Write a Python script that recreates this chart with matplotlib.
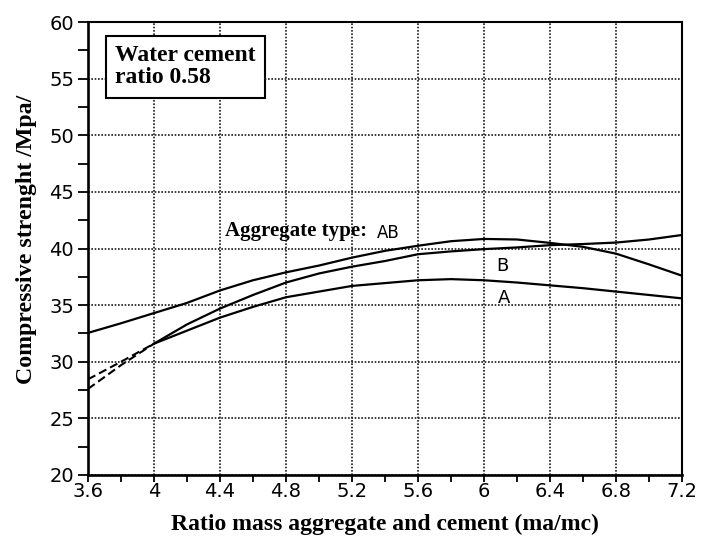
import numpy as np
import matplotlib
matplotlib.use('Agg')
import matplotlib.pyplot as plt
from matplotlib.ticker import MultipleLocator

# values
x_full = [3.6, 3.8, 4.0, 4.2, 4.4, 4.6, 4.8, 5.0, 5.2, 5.4, 5.6, 5.8, 6.0,
          6.2, 6.4, 6.6, 6.8, 7.0, 7.2]
y_ab = [32.55, 33.4, 34.3, 35.2, 36.3, 37.2, 37.9, 38.5, 39.2, 39.8, 40.25,
        40.65, 40.85, 40.8, 40.5, 40.15, 39.55, 38.6, 37.6]

x_part = [4.0, 4.2, 4.4, 4.6, 4.8, 5.0, 5.2, 5.4, 5.6, 5.8, 6.0, 6.2, 6.4,
          6.6, 6.8, 7.0, 7.2]
y_b = [31.6, 33.3, 34.7, 35.9, 37.0, 37.8, 38.4, 38.9, 39.5, 39.75, 39.95,
       40.1, 40.3, 40.4, 40.53, 40.8, 41.2]
y_a = [31.6, 32.75, 33.9, 34.85, 35.7, 36.2, 36.7, 36.95, 37.2, 37.3, 37.2,
       37.0, 36.75, 36.5, 36.2, 35.9, 35.6]

x_dash = [3.6, 3.8, 4.0]
y_b_dash = [28.45, 30.0, 31.6]
y_a_dash = [27.6, 29.7, 31.6]

x_ticks = [3.6, 4.0, 4.4, 4.8, 5.2, 5.6, 6.0, 6.4, 6.8, 7.2]
x_ticklabels = ['3.6', '4', '4.4', '4.8', '5.2', '5.6', '6', '6.4', '6.8', '7.2']
y_ticks = [20, 25, 30, 35, 40, 45, 50, 55, 60]

serif = 'Liberation Serif'
sans = 'DejaVu Sans'

fig = plt.figure(figsize=(7.01, 5.40), dpi=100)
ax = fig.add_axes([0.1255, 0.1204, 0.8475, 0.8386])

ax.plot(x_full, y_ab, color='black', lw=1.6)
ax.plot(x_part, y_b, color='black', lw=1.6)
ax.plot(x_part, y_a, color='black', lw=1.6)
ax.plot(x_dash, y_b_dash, color='black', lw=1.5, ls=(0, (4, 2)))
ax.plot(x_dash, y_a_dash, color='black', lw=1.5, ls=(0, (4, 2)))

ax.set_xlim(3.6, 7.2)
ax.set_ylim(20, 60)
ax.set_xticks(x_ticks)
ax.set_xticklabels(x_ticklabels)
ax.set_yticks(y_ticks)
ax.xaxis.set_minor_locator(MultipleLocator(0.2))
ax.yaxis.set_minor_locator(MultipleLocator(2.5))

ax.grid(True, which='major', color='#1a1a1a', ls=(0, (1, 1)), lw=1.2)
ax.tick_params(axis='both', which='both', direction='out', color='black',
               width=1.3)
ax.tick_params(axis='x', which='both', length=5, pad=0)
ax.tick_params(axis='y', which='both', length=7, pad=3)
for lab in ax.get_xticklabels() + ax.get_yticklabels():
    lab.set_fontfamily(sans)
    lab.set_fontsize(14)

for side in ['left', 'bottom']:
    ax.spines[side].set_linewidth(1.9)
for side in ['top', 'right']:
    ax.spines[side].set_linewidth(1.5)

ax.set_xlabel('Ratio mass aggregate and cement (ma/mc)', fontfamily=serif,
              fontweight='bold', fontsize=17, labelpad=9)
ax.set_ylabel('Compressive strenght /Mpa/', fontfamily=serif,
              fontweight='bold', fontsize=17.2)
ax.yaxis.set_label_coords(-0.085, 0.52)

ax.text(4.19, 56.06, 'Water cement\nratio 0.58', fontfamily=serif,
        fontweight='bold', fontsize=17, ha='center', va='center',
        linespacing=1.05, multialignment='left',
        bbox=dict(boxstyle='square,pad=0.4', fc='white', ec='black', lw=1.5))

ax.text(4.43, 41.1, 'Aggregate type:', fontfamily=serif, fontweight='bold',
        fontsize=15, ha='left', va='baseline')
ax.text(5.35, 40.9, 'AB', fontfamily=sans, fontsize=12, ha='left',
        va='baseline')
ax.text(6.11, 38.5, 'B', fontfamily=sans, fontsize=13, ha='center',
        va='center')
ax.text(6.12, 35.65, 'A', fontfamily=sans, fontsize=13, ha='center',
        va='center')

fig.savefig('out.png', dpi=100)
